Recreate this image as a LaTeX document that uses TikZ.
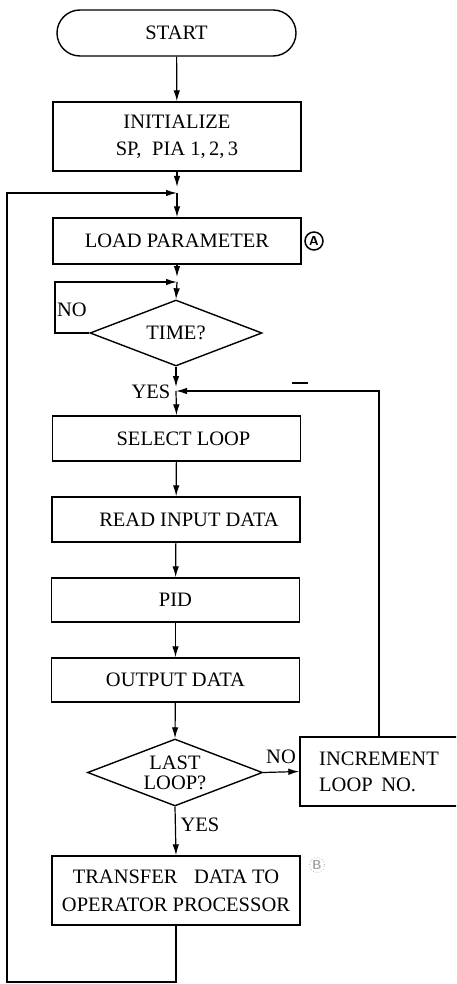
\documentclass[tikz,border=0pt]{standalone}
\usepackage{fontspec}
\setmainfont{Liberation Serif}
\usetikzlibrary{shapes.geometric,arrows.meta,calc}

\tikzset{
  every node/.style={font=\fontsize{20.5}{26}\selectfont},
  stepbox/.style={draw, line width=1.4pt, minimum width=248pt, inner sep=0pt, align=center},
  termbox/.style={draw, line width=1.4pt, rounded corners=23pt, minimum width=239pt, minimum height=46pt, inner sep=0pt},
  decide/.style={draw, line width=1.4pt, diamond, aspect=2.6, inner sep=0pt, align=center},
  flow/.style={line width=1.2pt, -{Latex[length=11pt,width=6.5pt]}},
  lbl/.style={inner sep=0pt},
  circmark/.style={draw, circle, line width=1.5pt, minimum size=18pt, inner sep=0pt,
                   font=\sffamily\bfseries\fontsize{13}{13}\selectfont},
}

\begin{document}
\begin{tikzpicture}[x=1pt,y=-1pt]
  \clip (0,0) rectangle (456,984);
  \fill[white] (0,0) rectangle (456,984);

  % main column
  \node[termbox] (start) at (176.5,33) {START};
  \node[stepbox, minimum height=69pt] (init) at (177,136.5)
       {INITIALIZE\\[1pt]SP,\; PIA 1,\,2,\,3};
  \node[stepbox, minimum height=46pt] (load) at (177,241) {LOAD PARAMETER};
  \node[decide, minimum width=172pt, minimum height=66pt] (time) at (176,333) {TIME?};
  \node[stepbox, minimum height=45pt] (select) at (176.5,438.5) {\hspace*{14pt}SELECT LOOP};
  \node[stepbox, minimum height=45pt] (read) at (176,519.5) {\hspace*{26pt}READ INPUT DATA};
  \node[stepbox, minimum height=44pt] (pid) at (175.5,600) {PID};
  \node[stepbox, minimum height=44pt] (output) at (175.5,680) {OUTPUT DATA};
  \node[decide, minimum width=175pt, minimum height=67pt] (last) at (175,772.5)
       {LAST\\[-6pt]LOOP?};
  \node[stepbox, minimum width=158pt, minimum height=69pt, align=left] (incr) at (379,771.5)
       {INCREMENT\\LOOP\, NO.};
  \node[stepbox, minimum height=69pt] (xfer) at (176,890.5)
       {TRANSFER\;\; DATA TO\\[2pt]OPERATOR PROCESSOR};

  % side marks
  \node[circmark] (markA) at (314,241) {A};
  \node[circmark, draw=black!30, text=black!35, line width=0.8pt, dotted, minimum size=15pt] (markB) at (317,865) {B};

  % junction points
  \coordinate (j1) at (init.south |- 0,193);
  \coordinate (j2) at (load.south |- 0,282);
  \coordinate (j3) at (time.south |- 0,391);
  \coordinate (outerleft) at (7,193);
  \coordinate (outerbot) at (7,982);
  \coordinate (noleft) at (55,333);

  % straight flow
  \draw[flow] (start) -- (init);
  \draw[flow] (init.south) -- ($(j1)+(0,-6)$);
  \draw[flow] (j1) -- (load.north);
  \draw[flow] (load.south) -- ($(j2)+(0,-5)$);
  \draw[flow] (j2) -- (time.north);
  \draw[flow] (time.south) -- ($(j3)+(0,-4)$);
  \draw[flow] (j3) -- (select.north);
  \draw[flow] (select) -- (read);
  \draw[flow] (read) -- (pid);
  \draw[flow] (pid) -- (output);
  \draw[flow] (output) -- (last.north);
  \draw[flow] (last.south) -- (xfer.north);
  \draw[flow] (last.east) -- (incr.west);

  % wait loop on TIME?
  \draw[flow] (time.west) -- (noleft) |- (j2);

  % loop back from INCREMENT LOOP NO.
  \draw[flow] (incr.north) |- (j3);

  % outer loop back to LOAD PARAMETER
  \draw[flow] (xfer.south) |- (outerbot) -- (outerleft) -- (j1);

  % branch labels
  \node[lbl] (noTime) at (72,310) {NO};
  \node[lbl] (yesTime) at (151,392) {YES};
  \node[lbl] (noLast) at (281,757) {NO};
  \node[lbl] (yesLast) at (200,825) {YES};

  % short stroke above the return line
  \draw[line width=1.6pt] (292,383) -- (308,383);
\end{tikzpicture}
\end{document}
